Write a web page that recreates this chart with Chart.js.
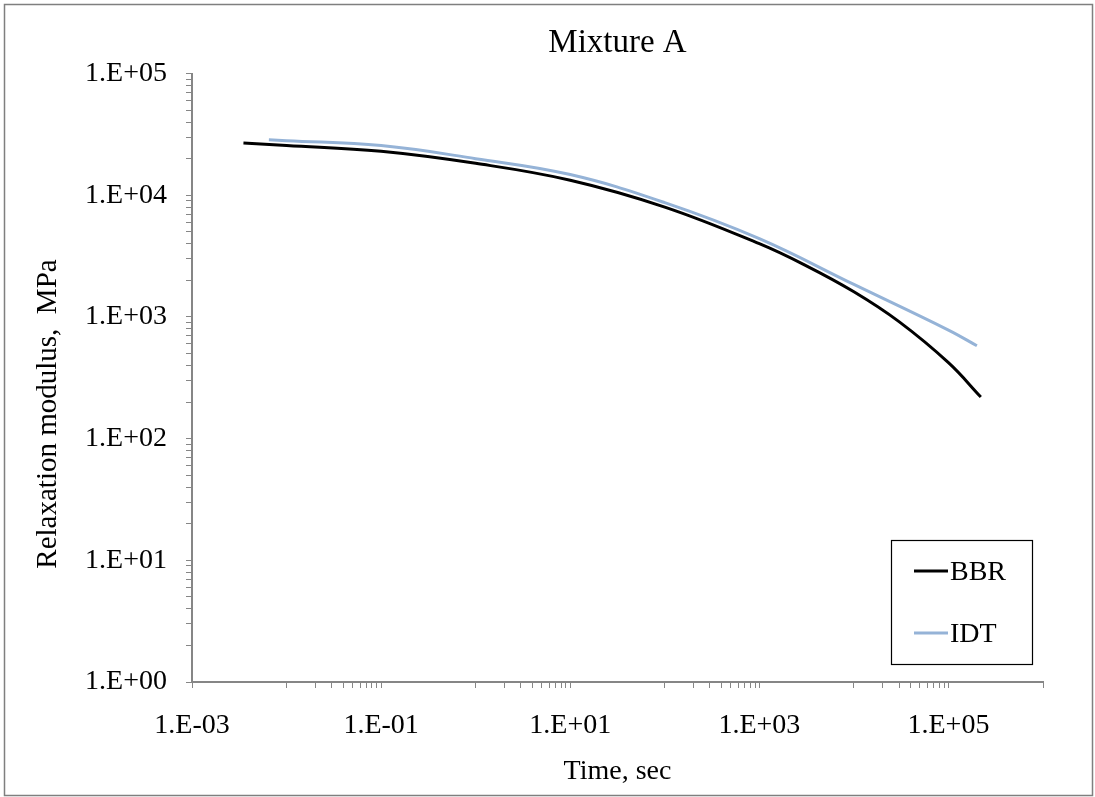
<!DOCTYPE html>
<html>
<head>
<meta charset="utf-8">
<title>Mixture A</title>
<script src="https://cdn.jsdelivr.net/npm/chart.js@4.4.1/dist/chart.umd.min.js"></script>
<style>
  html, body { margin: 0; padding: 0; background: #ffffff; }
  #wrap { width: 1095px; height: 797px; position: relative; }
  canvas { display: block; }
</style>
</head>
<body>
<div id="wrap"><canvas id="chart" width="1095" height="797"></canvas></div>
<script>
// Relaxation modulus master curves, Mixture A
const chartTitle = 'Mixture A';
const xAxisTitle = 'Time, sec';
const yAxisTitle = 'Relaxation modulus,  MPa';

// BBR series: time (s) and modulus (MPa)
const bbrTime    = [0.0035, 0.01,  0.1,   1,     10,    100,  1000, 3000, 10000, 30000, 100000, 220000];
const bbrModulus = [26900,  25700, 23000, 18300, 13300, 8000, 4000, 2680, 1610,  915,   421,    220];

// IDT series: time (s) and modulus (MPa)
const idtTime    = [0.0065, 0.01,  0.1,   1,     10,    100,  1000, 10000, 100000, 200000];
const idtModulus = [28600,  28100, 25600, 20000, 14800, 8700, 4400, 1850,  780,    580];

// Axis ranges and labelled ticks
const xMin = 1e-3, xMax = 1e6;
const yMin = 1, yMax = 1e5;
const xMajorTicks = [1e-3, 1e-1, 1e1, 1e3, 1e5];
const xTickLabels = ['1.E-03', '1.E-01', '1.E+01', '1.E+03', '1.E+05'];
const yMajorTicks = [1, 10, 100, 1000, 10000, 100000];
const yTickLabels = ['1.E+00', '1.E+01', '1.E+02', '1.E+03', '1.E+04', '1.E+05'];

const FONT = "'Liberation Serif', 'Times New Roman', serif";
const AXIS_GRAY = '#868686';

function toPoints(xs, ys) {
  return xs.map((x, i) => ({ x: x, y: ys[i] }));
}

function nearlyEqual(a, b) {
  return Math.abs(Math.log10(a) - Math.log10(b)) < 1e-6;
}

// X axis: minor marks 1..9 x 10^k in every other decade, plus a mark at the axis end
function buildXTicks(scale) {
  const vals = xMajorTicks.slice();
  for (let k = -2; k <= 4; k += 2) {
    for (let n = 1; n <= 9; n++) vals.push(n * Math.pow(10, k));
  }
  vals.push(xMax);
  vals.sort((a, b) => a - b);
  scale.ticks = vals.map(v => ({ value: v }));
}

// Y axis: minor marks 2..9 in each decade
function buildYTicks(scale) {
  const vals = yMajorTicks.slice();
  for (let k = 0; k < 5; k++) {
    for (let n = 2; n <= 9; n++) vals.push(n * Math.pow(10, k));
  }
  vals.sort((a, b) => a - b);
  scale.ticks = vals.map(v => ({ value: v }));
}

function labelFor(value, majors, labels) {
  for (let i = 0; i < majors.length; i++) {
    if (nearlyEqual(value, majors[i])) return labels[i];
  }
  return '';
}

// Outer frame of the figure
const framePlugin = {
  id: 'frame',
  beforeDraw(chart) {
    const ctx = chart.ctx;
    ctx.save();
    ctx.fillStyle = '#ffffff';
    ctx.fillRect(0, 0, chart.width, chart.height);
    ctx.restore();
  },
  afterDraw(chart) {
    const ctx = chart.ctx;
    ctx.save();
    ctx.strokeStyle = '#7f7f7f';
    ctx.lineWidth = 1.5;
    ctx.strokeRect(4.5, 4.5, chart.width - 7, chart.height - 6);
    ctx.restore();
  }
};

// Vertical axis title, placed beside the value axis
const yTitlePlugin = {
  id: 'yTitle',
  afterDraw(chart, args, opts) {
    const ctx = chart.ctx;
    ctx.save();
    ctx.translate(opts.x, opts.y);
    ctx.rotate(-Math.PI / 2);
    ctx.font = opts.size + 'px ' + FONT;
    ctx.fillStyle = '#000000';
    ctx.textAlign = 'center';
    ctx.textBaseline = 'middle';
    ctx.fillText(opts.text, 0, 0);
    ctx.restore();
  }
};

// Boxed legend inside the plot, lower right
const boxLegendPlugin = {
  id: 'boxLegend',
  afterDraw(chart, args, opts) {
    const ctx = chart.ctx;
    const area = chart.chartArea;
    const right = area.right - opts.marginRight;
    const bottom = area.bottom - opts.marginBottom;
    const left = right - opts.width;
    const top = bottom - opts.height;
    ctx.save();
    ctx.fillStyle = '#ffffff';
    ctx.fillRect(left, top, opts.width, opts.height);
    ctx.strokeStyle = '#000000';
    ctx.lineWidth = 1.2;
    ctx.strokeRect(left + 0.5, top + 0.5, opts.width, opts.height);
    ctx.font = opts.size + 'px ' + FONT;
    ctx.textAlign = 'left';
    ctx.textBaseline = 'middle';
    chart.data.datasets.forEach((ds, i) => {
      const y = top + opts.firstRow + i * opts.rowGap;
      ctx.strokeStyle = ds.borderColor;
      ctx.lineWidth = ds.borderWidth;
      ctx.beginPath();
      ctx.moveTo(left + opts.lineStart, y);
      ctx.lineTo(left + opts.lineStart + opts.lineLen, y);
      ctx.stroke();
      ctx.fillStyle = '#000000';
      ctx.fillText(ds.label, left + opts.lineStart + opts.lineLen + 2, y + 2);
    });
    ctx.restore();
  }
};

new Chart(document.getElementById('chart'), {
  type: 'line',
  data: {
    datasets: [
      {
        label: 'BBR',
        data: toPoints(bbrTime, bbrModulus),
        borderColor: '#000000',
        borderWidth: 3,
        pointRadius: 0,
        fill: false,
        tension: 0.4
      },
      {
        label: 'IDT',
        data: toPoints(idtTime, idtModulus),
        borderColor: '#95b3d7',
        borderWidth: 3,
        pointRadius: 0,
        fill: false,
        tension: 0.4
      }
    ]
  },
  options: {
    responsive: false,
    animation: false,
    events: [],
    layout: { padding: { left: 0, right: 52, top: 0, bottom: 0 } },
    scales: {
      x: {
        type: 'logarithmic',
        position: 'bottom',
        min: xMin,
        max: xMax,
        afterBuildTicks: buildXTicks,
        afterFit(scale) { scale.height = 115; },
        grid: {
          display: true,
          drawOnChartArea: false,
          drawTicks: true,
          tickLength: 6,
          tickColor: AXIS_GRAY,
          tickWidth: 1
        },
        border: { display: true, color: AXIS_GRAY, width: 2 },
        ticks: {
          autoSkip: false,
          maxRotation: 0,
          minRotation: 0,
          padding: 21,
          color: '#000000',
          font: { family: FONT, size: 28 },
          callback: (v) => labelFor(v, xMajorTicks, xTickLabels)
        },
        title: {
          display: true,
          text: xAxisTitle,
          color: '#000000',
          font: { family: FONT, size: 28 },
          padding: { top: 0, bottom: 9 }
        }
      },
      y: {
        type: 'logarithmic',
        position: 'left',
        min: yMin,
        max: yMax,
        afterBuildTicks: buildYTicks,
        afterFit(scale) { scale.width = 192; },
        grid: {
          display: true,
          drawOnChartArea: false,
          drawTicks: true,
          tickLength: 6,
          tickColor: AXIS_GRAY,
          tickWidth: 1
        },
        border: { display: true, color: AXIS_GRAY, width: 2 },
        ticks: {
          autoSkip: false,
          padding: 19,
          color: '#000000',
          font: { family: FONT, size: 28 },
          callback: (v) => labelFor(v, yMajorTicks, yTickLabels)
        }
      }
    },
    plugins: {
      legend: { display: false },
      tooltip: { enabled: false },
      title: {
        display: true,
        fullSize: false,
        text: chartTitle,
        color: '#000000',
        font: { family: FONT, size: 33, weight: 'normal' },
        padding: { top: 24, bottom: 10 }
      },
      yTitle: { text: yAxisTitle, x: 48, y: 414, size: 29 },
      boxLegend: {
        width: 141, height: 124, marginRight: 11, marginBottom: 18,
        firstRow: 31, rowGap: 62, lineStart: 23, lineLen: 34, size: 28
      }
    }
  },
  plugins: [framePlugin, yTitlePlugin, boxLegendPlugin]
});
</script>
</body>
</html>
